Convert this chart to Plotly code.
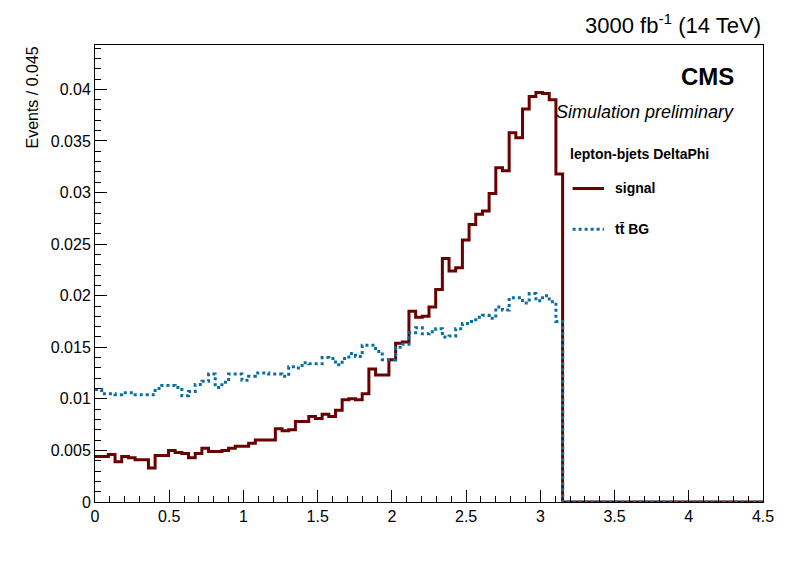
import numpy as np
import plotly.graph_objects as go

bin_width = 0.045
n_bins = 100
signal = [0.0044,0.0044,0.0046,0.0039,0.0044,0.0043,0.0041,0.0041,0.0033,0.0045,
          0.0045,0.0050,0.0048,0.0047,0.0043,0.0047,0.0052,0.0049,0.0049,0.0050,
          0.0052,0.0054,0.0054,0.0057,0.0060,0.0060,0.0060,0.0071,0.0069,0.0070,
          0.0078,0.0078,0.0083,0.0081,0.0085,0.0083,0.0089,0.0099,0.0100,0.0099,
          0.0105,0.0129,0.0123,0.0123,0.0138,0.0154,0.0155,0.0185,0.0179,0.0180,
          0.0189,0.0206,0.0236,0.0224,0.0227,0.0254,0.0269,0.0279,0.0282,0.0299,
          0.0324,0.0321,0.0358,0.0353,0.0381,0.0393,0.0397,0.0396,0.0390,0.0318]
ttbar = [0.0109,0.0105,0.0105,0.0104,0.0106,0.0106,0.0104,0.0104,0.0104,0.0110,
         0.0113,0.0113,0.0111,0.0103,0.0107,0.0114,0.0117,0.0124,0.0111,0.0116,
         0.0124,0.0124,0.0118,0.0122,0.0125,0.0125,0.0124,0.0124,0.0122,0.0131,
         0.0130,0.0135,0.0134,0.0134,0.0140,0.0139,0.0133,0.0139,0.0144,0.0141,
         0.0152,0.0152,0.0146,0.0138,0.0138,0.0150,0.0153,0.0164,0.0169,0.0163,
         0.0165,0.0168,0.0160,0.0161,0.0168,0.0173,0.0175,0.0179,0.0181,0.0178,
         0.0189,0.0186,0.0198,0.0198,0.0193,0.0202,0.0195,0.0200,0.0194,0.0175]
x_ticks = [0, 0.5, 1, 1.5, 2, 2.5, 3, 3.5, 4, 4.5]
x_labels = ["0", "0.5", "1", "1.5", "2", "2.5", "3", "3.5", "4", "4.5"]
y_ticks = [0, 0.005, 0.01, 0.015, 0.02, 0.025, 0.03, 0.035, 0.04]
y_labels = ["0", "0.005", "0.01", "0.015", "0.02", "0.025", "0.03", "0.035", "0.04"]

edges = np.arange(n_bins + 1) * bin_width

def step(vals):
    full = list(vals) + [0.0] * (n_bins - len(vals))
    return full + [full[-1]], list(edges)

FONT = "Liberation Sans, Arial, sans-serif"
fig = go.Figure()
ys, xs = step(signal)
fig.add_trace(go.Scatter(x=xs, y=ys, mode="lines", line_shape="hv",
                         line=dict(color="#6b0000", width=3), name="signal"))
yb, xb = step(ttbar)
fig.add_trace(go.Scatter(x=xb, y=yb, mode="lines", line_shape="hv",
                         line=dict(color="#0a6ea0", width=3, dash="dot"), name="tt̄ BG"))

fig.update_layout(
    width=796, height=572, plot_bgcolor="white", paper_bgcolor="white",
    margin=dict(l=87, r=41, t=37, b=78), showlegend=False,
    font=dict(family=FONT, color="black", size=16),
    xaxis=dict(range=[0, 4.5], tickvals=x_ticks, ticktext=x_labels, ticks="inside",
               ticklen=12, tickcolor="black", showline=True, linecolor="black",
               mirror=True, showgrid=False, zeroline=False,
               minor=dict(ticks="inside", ticklen=6, dtick=0.1, tickcolor="black")),
    yaxis=dict(range=[0, 0.0443], tickvals=y_ticks, ticktext=y_labels, ticks="inside",
               ticklen=12, tickcolor="black", showline=True, linecolor="black",
               mirror=True, showgrid=False, zeroline=False,
               minor=dict(ticks="inside", ticklen=6, dtick=0.001, tickcolor="black")),
)
ann = [
    dict(x=1, y=1.01, xref="paper", yref="paper", xanchor="right", yanchor="bottom",
         text="3000 fb<sup>-1</sup> (14 TeV)", font=dict(size=22)),
    dict(x=0.96, y=0.965, xref="paper", yref="paper", xanchor="right", yanchor="top",
         text="<b>CMS</b>", font=dict(size=24)),
    dict(x=0.96, y=0.88, xref="paper", yref="paper", xanchor="right", yanchor="top",
         text="<i>Simulation preliminary</i>", font=dict(size=18)),
    dict(x=0.708, y=0.762, xref="paper", yref="paper", xanchor="left", yanchor="middle",
         text="<b>lepton-bjets DeltaPhi</b>", font=dict(size=14)),
    dict(x=0.775, y=0.686, xref="paper", yref="paper", xanchor="left", yanchor="middle",
         text="<b>signal</b>", font=dict(size=14)),
    dict(x=0.775, y=0.597, xref="paper", yref="paper", xanchor="left", yanchor="middle",
         text="<b>tt̄ BG</b>", font=dict(size=14)),
    dict(x=-0.095, y=1, xref="paper", yref="paper", xanchor="center", yanchor="top",
         text="Events / 0.045", textangle=-90, font=dict(size=16)),
]
for a in ann:
    a["showarrow"] = False
fig.update_layout(annotations=ann)
fig.add_shape(type="line", xref="paper", yref="paper", x0=0.715, x1=0.762, y0=0.686, y1=0.686,
              line=dict(color="#6b0000", width=3))
fig.add_shape(type="line", xref="paper", yref="paper", x0=0.715, x1=0.762, y0=0.597, y1=0.597,
              line=dict(color="#0a6ea0", width=3, dash="dot"))
fig.write_html("out.html")
